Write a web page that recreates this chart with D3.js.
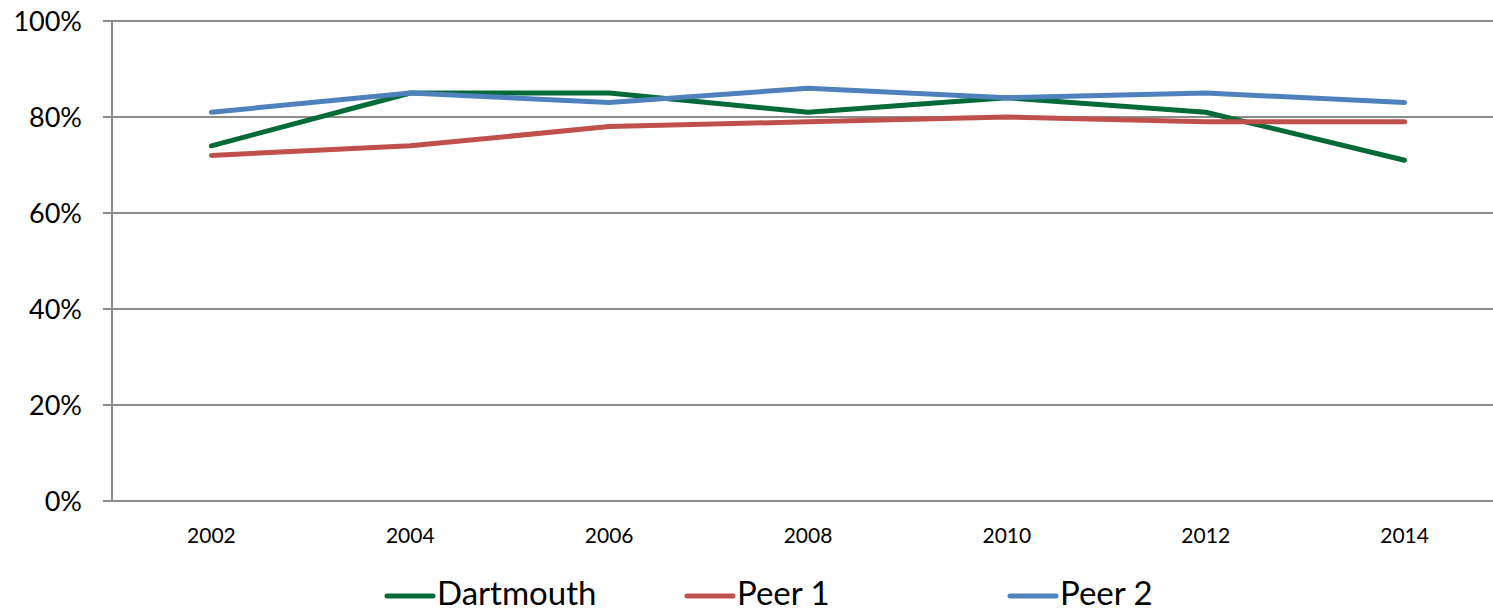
<!DOCTYPE html>
<html>
<head>
<meta charset="utf-8">
<script src="https://cdn.jsdelivr.net/npm/d3@7.9.0/dist/d3.min.js"></script>
<style>
  body { margin: 0; background: #fff; }
  text { font-family: Lato, "Open Sans", sans-serif; fill: #000; }
</style>
</head>
<body>
<svg id="chart" width="1493" height="612"></svg>
<script>
const years = ['2002', '2004', '2006', '2008', '2010', '2012', '2014'];
const dartmouth = [74, 85, 85, 81, 84, 81, 71];
const peer1 = [72, 74, 78, 79, 80, 79, 79];
const peer2 = [81, 85, 83, 86, 84, 85, 83];
const yTicks = [0, 20, 40, 60, 80, 100];

const series = [
  { name: 'Dartmouth', values: dartmouth, color: '#046a38' },
  { name: 'Peer 1', values: peer1, color: '#c0504d' },
  { name: 'Peer 2', values: peer2, color: '#4f81bd' }
];

const svg = d3.select('#chart');
const plotLeft = 112, plotRight = 1504, plotTop = 21, plotBottom = 501;

const x = d3.scaleBand().domain(years).range([plotLeft, plotRight]);
const y = d3.scaleLinear().domain([0, 100]).range([plotBottom, plotTop]);

// gridlines with small ticks left of the axis
svg.append('g')
  .selectAll('line')
  .data(yTicks)
  .join('line')
  .attr('x1', plotLeft - 9)
  .attr('x2', 1493)
  .attr('y1', d => y(d))
  .attr('y2', d => y(d))
  .attr('stroke', '#8c8c8c')
  .attr('stroke-width', 2);

svg.append('line')
  .attr('x1', plotLeft).attr('x2', plotLeft)
  .attr('y1', plotTop).attr('y2', plotBottom)
  .attr('stroke', '#8c8c8c')
  .attr('stroke-width', 2);

svg.append('g')
  .selectAll('text')
  .data(yTicks)
  .join('text')
  .attr('x', 82)
  .attr('y', d => y(d))
  .attr('dy', '0.36em')
  .attr('text-anchor', 'end')
  .attr('font-size', 27)
  .text(d => d + '%');

// x labels
svg.append('g')
  .selectAll('text')
  .data(years)
  .join('text')
  .attr('x', d => x(d) + x.bandwidth() / 2)
  .attr('y', 543)
  .attr('text-anchor', 'middle')
  .attr('font-size', 21)
  .text(d => d);

// lines
const line = d3.line()
  .x((d, i) => x(years[i]) + x.bandwidth() / 2)
  .y(d => y(d));

svg.append('g')
  .selectAll('path')
  .data(series)
  .join('path')
  .attr('d', d => line(d.values))
  .attr('fill', 'none')
  .attr('stroke', d => d.color)
  .attr('stroke-width', 5)
  .attr('stroke-linecap', 'round')
  .attr('stroke-linejoin', 'round');

// legend
const legendX = [387, 687, 1010];
const legend = svg.append('g')
  .selectAll('g')
  .data(series)
  .join('g')
  .attr('transform', (d, i) => `translate(${legendX[i]},596)`);

legend.append('line')
  .attr('x1', 0).attr('x2', 46)
  .attr('stroke', d => d.color)
  .attr('stroke-width', 5)
  .attr('stroke-linecap', 'round');

legend.append('text')
  .attr('x', 50)
  .attr('y', 9)
  .attr('font-size', 33)
  .text(d => d.name);
</script>
</body>
</html>
